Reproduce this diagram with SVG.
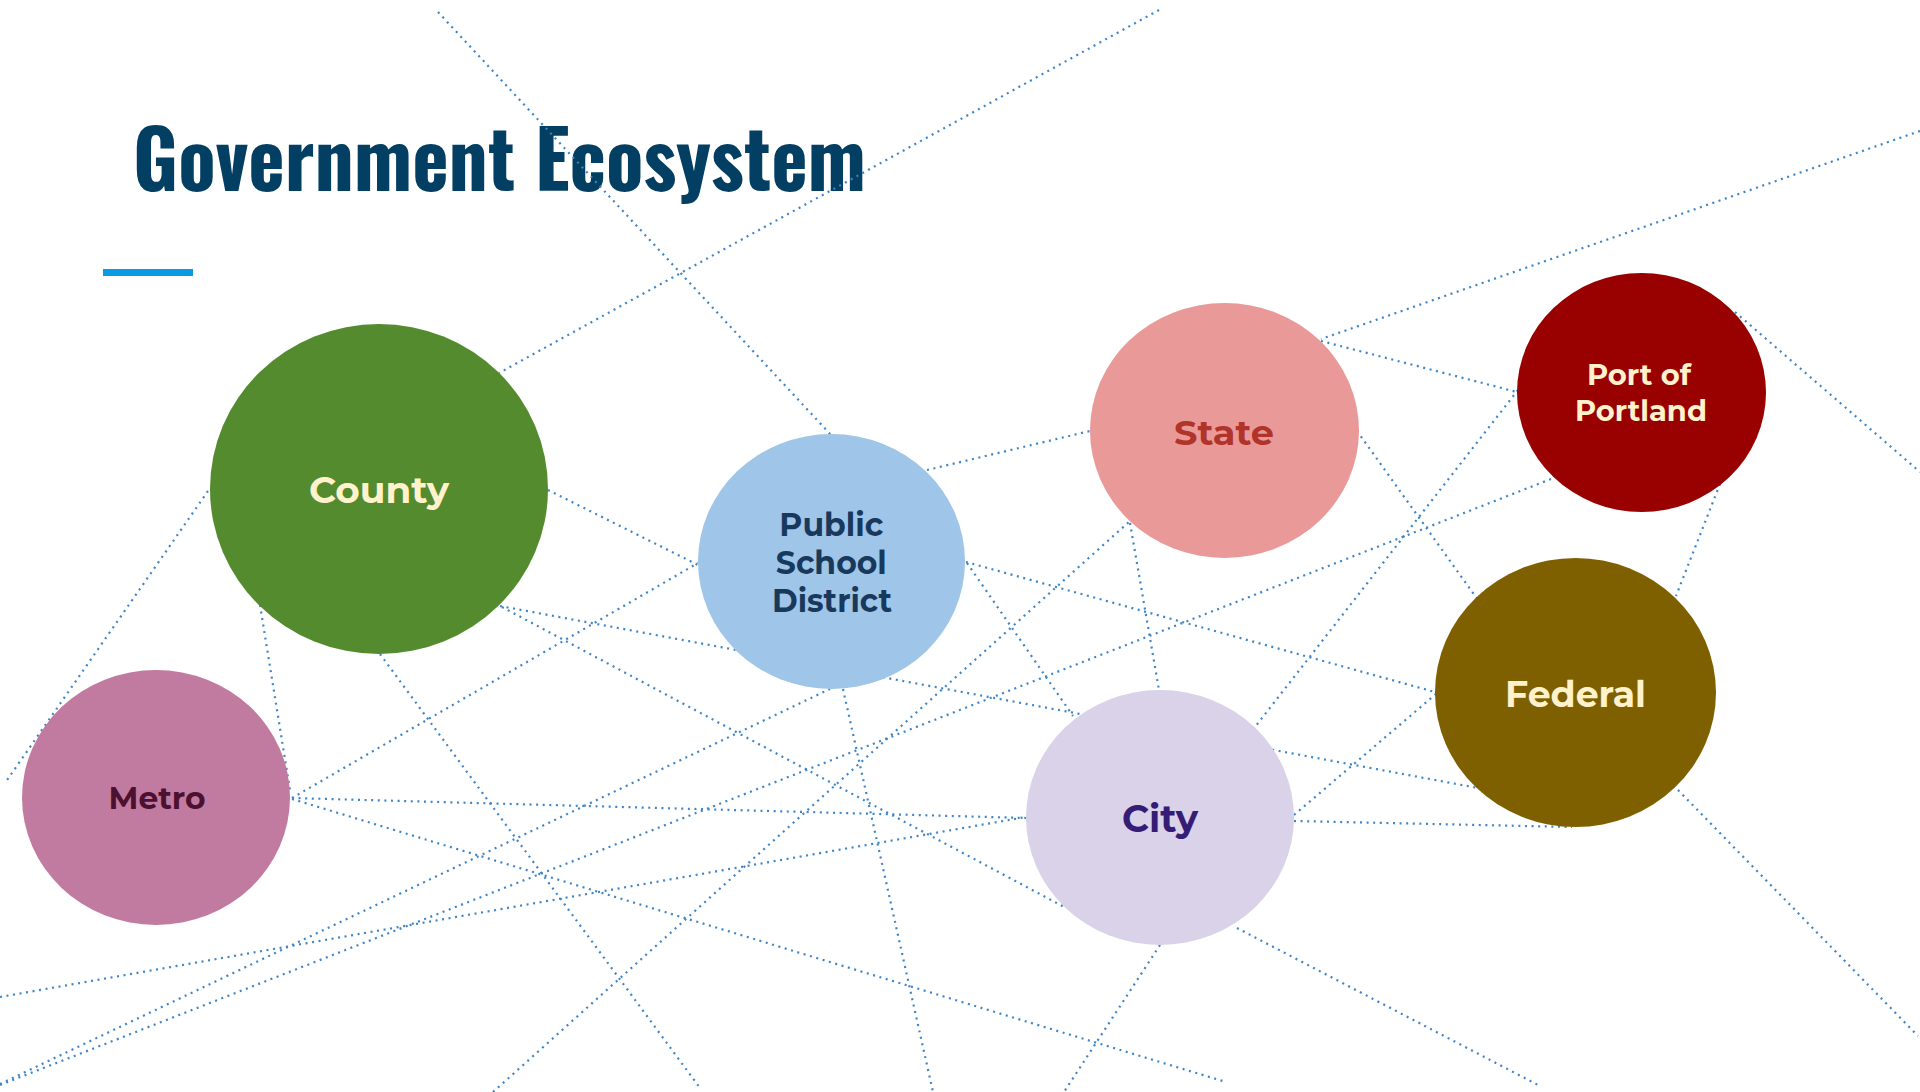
<svg xmlns="http://www.w3.org/2000/svg" width="1920" height="1092" viewBox="0 0 1920 1092">
<style>
.c{stroke:#3D85C6;stroke-width:2.2;stroke-dasharray:2 4.6;fill:none}
.lbl{font-family:Montserrat,"Liberation Sans",Arial,sans-serif;font-weight:bold;text-anchor:middle}
.cream{fill:#FFF2CC}
</style>
<rect width="1920" height="1092" fill="#FFFFFF"/>
<text x="133" y="191" font-family="Oswald,'Liberation Sans Narrow','DejaVu Sans Condensed','Liberation Sans',sans-serif" font-weight="bold" font-size="80" fill="#023F62" textLength="733" lengthAdjust="spacingAndGlyphs">Government Ecosystem</text>
<rect x="103" y="269" width="90" height="7" fill="#0A9BE2"/>
<g id="connectors">
<line class="c" x1="438" y1="12" x2="831" y2="435"/>
<line class="c" x1="1159" y1="10" x2="499" y2="373"/>
<line class="c" x1="1920" y1="131" x2="1321" y2="339"/>
<line class="c" x1="1321" y1="341" x2="1517" y2="392"/>
<line class="c" x1="1735" y1="312" x2="1920" y2="472"/>
<line class="c" x1="927" y1="470" x2="1090" y2="431"/>
<line class="c" x1="548" y1="490" x2="698" y2="565"/>
<line class="c" x1="208" y1="491" x2="5" y2="783"/>
<line class="c" x1="260" y1="605" x2="290" y2="790"/>
<line class="c" x1="380" y1="654" x2="700" y2="1088"/>
<line class="c" x1="500" y1="606" x2="1478" y2="788"/>
<line class="c" x1="502" y1="607" x2="1066" y2="908"/>
<line class="c" x1="292" y1="798" x2="698" y2="563"/>
<line class="c" x1="292" y1="798" x2="1026" y2="818"/>
<line class="c" x1="292" y1="799" x2="1226" y2="1082"/>
<line class="c" x1="0" y1="997" x2="1026" y2="817"/>
<line class="c" x1="0" y1="1085" x2="1551" y2="479"/>
<line class="c" x1="493" y1="1092" x2="1130" y2="521"/>
<line class="c" x1="0" y1="1084" x2="830" y2="689"/>
<line class="c" x1="843" y1="689" x2="933" y2="1092"/>
<line class="c" x1="966" y1="562" x2="1435" y2="692"/>
<line class="c" x1="967" y1="563" x2="1073" y2="716"/>
<line class="c" x1="1130" y1="523" x2="1159" y2="690"/>
<line class="c" x1="1357" y1="431" x2="1478" y2="600"/>
<line class="c" x1="1518" y1="390" x2="1255" y2="727"/>
<line class="c" x1="1720" y1="484" x2="1676" y2="596"/>
<line class="c" x1="1294" y1="821" x2="1572" y2="827"/>
<line class="c" x1="1294" y1="815" x2="1436" y2="694"/>
<line class="c" x1="1678" y1="790" x2="1918" y2="1036"/>
<line class="c" x1="1160" y1="945" x2="1064" y2="1092"/>
<line class="c" x1="1237" y1="928" x2="1540" y2="1086"/>
</g>
<g id="county">
<ellipse cx="379" cy="489" rx="169" ry="165" fill="#558B2F"/>
<text class="lbl cream" x="379" y="503" font-size="36" textLength="140" lengthAdjust="spacingAndGlyphs">County</text>
</g>
<g id="public-school-district">
<ellipse cx="831.5" cy="561.5" rx="133.5" ry="127.5" fill="#9FC5E8"/>
<text class="lbl" fill="#18395C" font-size="33">
<tspan x="836" y="536" textLength="104" lengthAdjust="spacingAndGlyphs">Public</tspan>
<tspan x="836" y="574" textLength="111" lengthAdjust="spacingAndGlyphs">School</tspan>
<tspan x="832" y="612" textLength="120" lengthAdjust="spacingAndGlyphs">District</tspan>
</text>
</g>
<g id="state">
<ellipse cx="1224.5" cy="430.5" rx="134.5" ry="127.5" fill="#EA9999"/>
<text class="lbl" fill="#B1342B" x="1224" y="445" font-size="35" textLength="100" lengthAdjust="spacingAndGlyphs">State</text>
</g>
<g id="port-of-portland">
<ellipse cx="1641.5" cy="392.5" rx="124.5" ry="119.5" fill="#990000"/>
<text class="lbl cream" font-size="29">
<tspan x="1643" y="385" textLength="104" lengthAdjust="spacingAndGlyphs">Port of</tspan>
<tspan x="1641" y="421" textLength="132" lengthAdjust="spacingAndGlyphs">Portland</tspan>
</text>
</g>
<g id="federal">
<ellipse cx="1575.5" cy="692.5" rx="140.5" ry="134.5" fill="#7F6000"/>
<text class="lbl cream" x="1575.5" y="707" font-size="37" textLength="141" lengthAdjust="spacingAndGlyphs">Federal</text>
</g>
<g id="city">
<ellipse cx="1160" cy="817.5" rx="134" ry="127.5" fill="#D9D2E9"/>
<text class="lbl" fill="#351C75" x="1160" y="832" font-size="39" textLength="76" lengthAdjust="spacingAndGlyphs">City</text>
</g>
<g id="metro">
<ellipse cx="156" cy="797.5" rx="134" ry="127.5" fill="#C27BA0"/>
<text class="lbl" fill="#4C1130" x="157" y="809" font-size="30" textLength="97" lengthAdjust="spacingAndGlyphs">Metro</text>
</g>
</svg>
